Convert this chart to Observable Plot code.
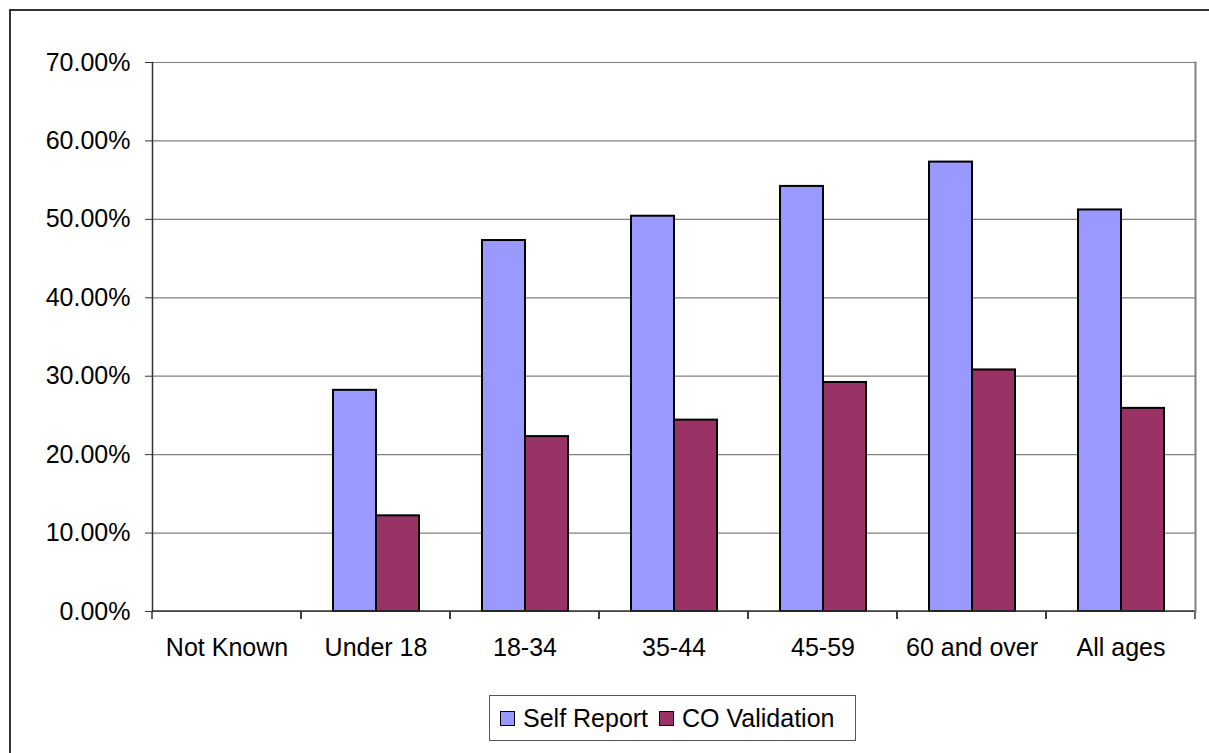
<!DOCTYPE html>
<html>
<head>
<meta charset="utf-8">
<script src="https://cdn.jsdelivr.net/npm/d3@7"></script>
<script src="https://cdn.jsdelivr.net/npm/@observablehq/plot@0.6"></script>
<style>
  html, body { margin: 0; padding: 0; background: #fff; overflow: hidden; }
  body { width: 1209px; height: 753px; position: relative; font-family: "Liberation Sans", Arial, sans-serif; }
  #border { position: absolute; left: 9px; top: 9px; width: 1300px; height: 900px; border-left: 2px solid #333; border-top: 2px solid #333; box-sizing: border-box; }
  #chart { position: absolute; left: 0; top: 0; }
  #legend { position: absolute; left: 489px; top: 695px; width: 367px; height: 46px; border: 1px solid #555; box-sizing: border-box; display: flex; align-items: center; padding-left: 10px; font-size: 25px; color: #000; background: #fff; }
  .sw { width: 13px; height: 13px; border: 1.5px solid #000; margin-right: 8px; }
  .item { display: flex; align-items: center; margin-right: 11px; }
</style>
</head>
<body>
<div id="border"></div>
<div id="chart"></div>
<div id="legend"></div>
<script>
const categories = ["Not Known", "Under 18", "18-34", "35-44", "45-59", "60 and over", "All ages"];
const seriesNames = ["Self Report", "CO Validation"];
const seriesColors = ["#9999FF", "#993366"];
const selfReport = [0, 0.282, 0.473, 0.504, 0.542, 0.573, 0.512];
const coValidation = [0, 0.122, 0.223, 0.244, 0.292, 0.308, 0.259];
const yTicks = [0, 0.1, 0.2, 0.3, 0.4, 0.5, 0.6, 0.7];

const data = [];
categories.forEach((c, i) => {
  data.push({category: c, series: seriesNames[0], value: selfReport[i]});
  data.push({category: c, series: seriesNames[1], value: coValidation[i]});
});

function facetBaseline(index, scales) {
  const {x, y} = scales;
  const [x0, x1] = x.range();
  const y0 = y(0);
  const g = d3.create("svg:g").attr("stroke", "#333").attr("stroke-width", 1.5).attr("fill", "none");
  g.append("line").attr("x1", x0).attr("x2", x1).attr("y1", y0).attr("y2", y0);
  for (const xx of [x0, x1]) {
    g.append("line").attr("x1", xx).attr("x2", xx).attr("y1", y0).attr("y2", y0 + 8);
  }
  return g.node();
}

const chart = Plot.plot({
  width: 1209,
  height: 680,
  marginLeft: 149,
  marginRight: 12,
  marginTop: 62,
  marginBottom: 69,
  style: {background: "transparent", fontFamily: "'Liberation Sans', Arial, sans-serif", fontSize: "25px", color: "#000", overflow: "visible"},
  fx: {domain: categories, padding: 0},
  x: {domain: seriesNames, paddingInner: 0, paddingOuter: 0.73, axis: null},
  y: {domain: [0, 0.7]},
  color: {domain: seriesNames, range: seriesColors},
  marks: [
    Plot.gridY(yTicks, {stroke: "#808080", strokeOpacity: 1, strokeWidth: 1.2}),
    Plot.barY(data, {fx: "category", x: "series", y: "value", fill: "series", stroke: "#000", strokeWidth: 2}),
    facetBaseline,
    Plot.frame({anchor: "left", facetAnchor: "left", stroke: "#333", strokeWidth: 1.5}),
    Plot.frame({anchor: "right", facetAnchor: "right", stroke: "#808080", strokeWidth: 2}),
    Plot.axisY(yTicks, {tickSize: 7, tickPadding: 15, tickFormat: d3.format(".2%"), label: null, stroke: "#333", fontSize: 25}),
    Plot.axisFx({anchor: "bottom", tickSize: 0, tickPadding: 27, label: null, fontSize: 25})
  ]
});
document.getElementById("chart").appendChild(chart);

const legend = d3.select("#legend");
seriesNames.forEach((s, i) => {
  const item = legend.append("div").attr("class", "item");
  item.append("div").attr("class", "sw").style("background", seriesColors[i]);
  item.append("span").text(s);
});
</script>
</body>
</html>
